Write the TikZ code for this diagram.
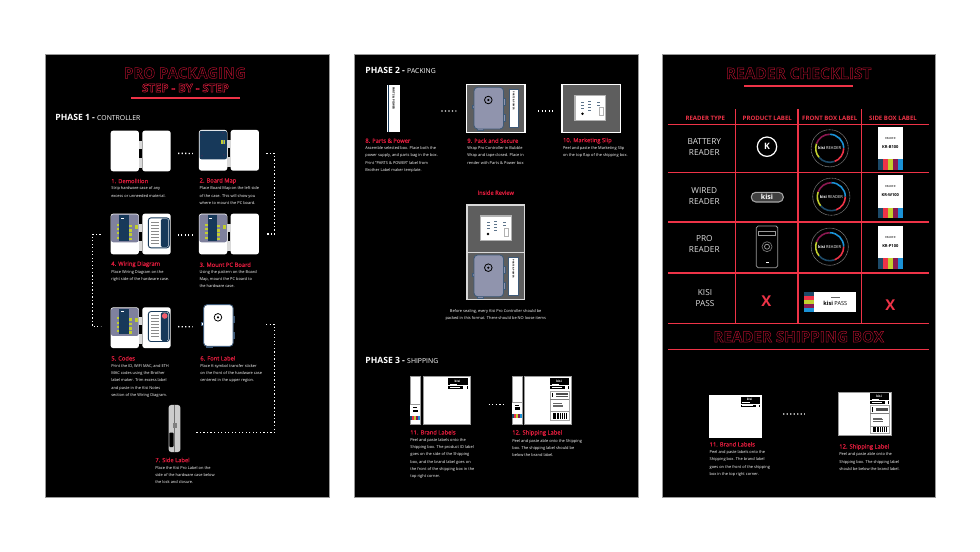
\documentclass[tikz,border=0pt]{standalone}
\usepackage{fontspec}
\setmainfont{Open Sans}
\usetikzlibrary{fit}

\definecolor{kisired}{HTML}{EE3347}
\definecolor{steprose}{HTML}{DC1C3C}
\definecolor{deeprose}{HTML}{A80F2B}
\definecolor{kisinavy}{HTML}{17395A}
\definecolor{plategrey}{HTML}{7F819D}
\definecolor{casegrey}{HTML}{9094AD}
\definecolor{caseedge}{HTML}{3E5A78}
\definecolor{traygrey}{HTML}{5E5E5E}
\definecolor{barnavy}{HTML}{1D4A68}
\definecolor{baryellow}{HTML}{C2CF2F}
\definecolor{barmaroon}{HTML}{8A1850}
\definecolor{barblue}{HTML}{1B92D6}

% outlined lettering for the big headings
\newcommand{\hollowtext}[1]{\special{pdf:code 0.28 w 1 Tr}#1\special{pdf:code 0 Tr}}
% colour bars, stacked left to right or top to bottom
\newcommand{\vbars}[4]{%
  \foreach \c [count=\i from 0] in {barnavy,kisired,baryellow,barmaroon,barblue}
    \fill[\c] ({#1+\i*(#3-#1)/5},#2) rectangle ({#1+(\i+1)*(#3-#1)/5},#4);}
\newcommand{\hbars}[4]{%
  \foreach \c [count=\i from 0] in {barnavy,kisired,baryellow,barmaroon,barblue}
    \fill[\c] (#1,{#2+\i*(#4-#2)/5}) rectangle (#3,{#2+(\i+1)*(#4-#2)/5});}

\tikzset{
  panel/.style={fill=black, draw=black!40, line width=0.4pt},
  headline/.style={text=deeprose, inner sep=0},
  phasehead/.style={anchor=west, inner sep=0, text=white, font=\fontsize{4.9}{6}\selectfont\bfseries},
  steptitle/.style={anchor=west, inner sep=0, text=steprose, font=\fontsize{3.3}{4}\selectfont\addfontfeature{FakeBold=0.8}},
  stepbody/.style={anchor=north west, inner sep=0, align=left, text=white, font=\fontsize{2.25}{4.15}\selectfont},
  centerbody/.style={stepbody, anchor=north, align=center},
  stepimg/.style={inner sep=0, fit={#1}},
  dotlink/.style={white, line width=0.75pt, dash pattern=on 0.75pt off 1.25pt},
  tablerule/.style={kisired, line width=0.65pt},
  colhead/.style={inner sep=0, text=kisired, font=\fontsize{3.45}{4}\selectfont\bfseries},
  rowhead/.style={inner sep=0, align=center, text=black!12, font=\fontsize{4.7}{6.1}\selectfont},
  cross/.style={inner sep=0, text=kisired, font=\fontsize{8.5}{9}\selectfont\bfseries},
  tinylabel/.style={inner sep=0, font=\fontsize{1.6}{2}\selectfont},
  % open hardware case, both halves
  pics/casepair/.style={code={
    \fill[white, rounded corners=1.4pt] (0,0) rectangle (28.3,40.7);
    \fill[white, rounded corners=1.4pt] (31.7,0) rectangle (60,40.7);
    \fill[black!15] (28.3,10) rectangle (31.7,37);
    \fill[black] (28.8,18) rectangle (31.2,27);
  }},
  % navy map that covers the left half
  pics/boardmap/.style={code={
    \fill[kisinavy, rounded corners=1.2pt] (0.6,0.8) rectangle (28,29.4);
    \fill[baryellow] (22,10) rectangle (26.3,14.4);
    \draw[kisinavy!60!white, line width=0.3pt] (24.1,10) -- (24.1,14.4);
    \foreach \px/\py in {2/5,25/25,3/26,24/3} \fill[barmaroon] (\px,\py) circle (0.5);
  }},
  % PC board mounted on the plate of the left half
  pics/boardmount/.style={code={
    \fill[plategrey, rounded corners=1.2pt] (0.4,0.8) rectangle (28,28.6);
    \fill[kisinavy] (8.7,1.4) rectangle (18,27);
    \foreach \py in {11,15.3,19.6,24} {
      \fill[baryellow] (18,\py) rectangle (21,{\py+2.6});
      \fill[baryellow] (6.3,{\py-1}) rectangle (8.7,{\py+1});
    }
    \fill[baryellow] (24.5,11) rectangle (27.5,15);
    \fill[white] (10,4) rectangle (13,5);
  }},
  % wiring sheet on the right half
  pics/wiringcard/.style={code={
    \fill[white] (37.7,4.2) rectangle (58.7,34.2);
    \draw[kisinavy, line width=0.5pt, rounded corners=1.5pt] (37.7,4.2) rectangle (58.7,34.2);
    \fill[kisinavy, rounded corners=0.8pt] (50.3,5) rectangle (57.6,33.5);
    \foreach \py in {8,11,14,17,20,23,26,29} \fill[black!45] (40,\py) rectangle ({46+mod(\py,3)},{\py+0.7});
  }},
  % closed case seen from the front
  pics/caseface/.style={code={
    \fill[#1, draw=caseedge, line width=0.5pt] (-2,18) rectangle (0,21);
    \fill[#1, draw=caseedge, line width=0.5pt] (29.5,11.5) rectangle (31,18);
    \fill[#1, draw=caseedge, line width=0.5pt] (29.5,27.5) rectangle (31,34);
    \fill[#1, draw=caseedge, line width=0.5pt] (3,41) rectangle (9,43);
    \fill[#1, draw=caseedge, line width=0.5pt, rounded corners=2pt] (0,0) rectangle (29.5,41.7);
    \draw[black, line width=0.45pt] (14.3,12.7) circle (3.8);
    \fill[black] (14.3,12.7) circle (1.2);
  }},
  % marketing slip on its tray
  pics/slipcard/.style={code={
    \fill[white, draw=black!30, line width=0.7pt] (0,0) rectangle (30.7,24.5);
    \foreach \px/\py in {6/6,6/9,6/12,13/5,13/8,13/11,13/14,22/6,22/9} \fill[kisinavy!70] (\px,\py) rectangle ({\px+3},{\py+1.2});
    \fill[black] (7.5,18) circle (1.4);
    \draw[black!30, line width=0.3pt] (24,12) rectangle (28,20);
  }},
  % black brand label of the shipping box
  pics/brandlabel/.style={code={
    \fill[black] (0,0) rectangle (19.2,10.7);
    \node[tinylabel, text=white, font=\fontsize{1.8}{2}\selectfont\bfseries] (#1) at (9,2.6) {kisi};
    \fill[white] (1.5,5.2) rectangle (9,5.9);
    \fill[white] (0,7) rectangle (19.2,7.5);
    \fill[white] (1.5,8.5) rectangle (12,9.2);
    \fill[white] (15,7.9) rectangle (18.4,10.2);
  }},
  % small product label of the side panel
  pics/sidesticker/.style={code={
    \fill[white] (0,0) rectangle (10,15.7);
    \fill[black!40] (0,0) rectangle (10,0.5);
    \fill[black] (3,2.5) rectangle (7,3);
    \fill[black] (2.5,5.2) rectangle (7.5,7.8);
    \vbars{0}{11.5}{10}{15.7}
  }},
  % carrier label with barcode
  pics/shiplabel/.style={code={
    \fill[white, draw=black!35, line width=0.45pt] (0,0) rectangle (19,#1);
    \fill[black] (1.5,1.5) rectangle (3,6);
    \foreach \py in {1.8,3.2,4.6} \fill[black!70] (6,\py) rectangle (17.5,{\py+0.5});
    \fill[black!50] (0,7.5) rectangle (19,7.9);
    \foreach \py in {12,13.5,15} \fill[black!60] (2.5,\py) rectangle ({8+\py/3},{\py+0.5});
    \fill[black!40] (0,19.8) rectangle (19,20.1);
    \foreach \px in {2.5,4,5,7,8.2,10,11.5,12.4,14,15.5} \fill[black] (\px,21.5) rectangle ({\px+0.8},{#1-1.5});
  }},
  % round front label of a reader box
  pics/ringlabel/.style={code={
    \draw[black!55, line width=0.35pt, dash pattern=on 0.6pt off 0.25pt] (0,0) circle (18.6);
    \draw[barblue, line width=0.9pt] (0,-14) arc[start angle=270, end angle=360, radius=14];
    \draw[kisired, line width=0.9pt] (14,0) arc[start angle=0, end angle=70, radius=14];
    \draw[barnavy, line width=0.9pt] (70:14) arc[start angle=70, end angle=140, radius=14];
    \draw[baryellow, line width=0.9pt] (140:14) arc[start angle=140, end angle=200, radius=14];
    \draw[barmaroon, line width=0.9pt] (200:14) arc[start angle=200, end angle=270, radius=14];
  }},
  ringtext/.style={inner sep=0, text=white, font=\fontsize{2.3}{3}\selectfont},
}

\begin{document}
\begin{tikzpicture}[x=0.02cm, y=-0.02cm]
  \useasboundingbox (0,0) rectangle (980,551);
  \fill[white] (0,0) rectangle (980,551);
  % panels
  \draw[panel] (45.5,54) rectangle (329,497);
  \draw[panel] (354.5,54) rectangle (638,497);
  \draw[panel] (662.5,54) rectangle (935,497);

  % ---- phase 1
  \fill[kisired] (131,96.8) rectangle (239.7,98.6);
  \node[headline, font=\fontsize{8.5}{10}\selectfont\bfseries] (Title1) at (185,73) {\hollowtext{PRO PACKAGING}};
  \node[headline, font=\fontsize{6.5}{7}\selectfont\bfseries, text=steprose] (Title2) at (185.5,88) {\hollowtext{STEP - BY - STEP}};
  \node[phasehead] (Phase1) at (55,117) {PHASE 1 - {\fontsize{3.9}{5}\selectfont\mdseries CONTROLLER}};

  % images
  \node[stepimg={(111,131) (171,171.7)}] (S1) {};
  \node[stepimg={(199.3,130.3) (259.3,171)}] (S2) {};
  \node[stepimg={(199.3,214) (259.3,255)}] (S3) {};
  \node[stepimg={(111,214) (171,255)}] (S4) {};
  \node[stepimg={(111,307.7) (171,348)}] (S5) {};
  \node[stepimg={(204,305) (233.7,346.7)}] (S6) {};
  \node[stepimg={(169,405.3) (180,451.7)}] (S7) {};

  \pic at (S1.north west) {casepair};
  \pic at (S2.north west) {casepair};
  \pic at (S2.north west) {boardmap};
  \pic at (S3.north west) {casepair};
  \pic at (S3.north west) {boardmount};
  \pic at (S4.north west) {casepair};
  \pic at (S4.north west) {boardmount};
  \pic at (S4.north west) {wiringcard};
  \pic at (S5.north west) {casepair};
  \pic at (S5.north west) {boardmount};
  \pic at (S5.north west) {wiringcard};
  \fill[kisired!80!white] (164.7,316) circle (2.8);
  \pic at (S6.north west) {caseface=white};
  % side of the case, with its label
  \fill[black!20, rounded corners=1.5pt] (S7.north west) rectangle (S7.south east);
  \draw[black!55, line width=0.3pt] (S7.north) -- (S7.south);
  \fill[black, rounded corners=0.5pt] (169.3,432.5) rectangle (173.5,447);
  \fill[black!50] (173,423) rectangle (177,428);

  % connectors
  \draw[dotlink] ([shift={(6.7,2)}]S1.east) -- ([shift={(-6,2.8)}]S2.west);
  \draw[dotlink] ([shift={(6.7,2.8)}]S2.east) -- ++(8.3,0) |- ([shift={(6.7,-0.5)}]S3.east);
  \draw[dotlink] ([shift={(-6,0.5)}]S3.west) -- ([shift={(6.7,0.5)}]S4.east);
  \draw[dotlink] ([shift={(-10,-0.2)}]S4.west) -- ++(-8.3,0) |- ([shift={(-10,-1.2)}]S5.west);
  \draw[dotlink] ([shift={(6.7,-1.2)}]S5.east) -- ([shift={(-11,0.9)}]S6.west);
  \draw[dotlink] ([shift={(32,-1.5)}]S6.east) -- ++(8.3,0) |- ([shift={(15,4.2)}]S7.east);

  % step texts
  \node[steptitle] (T1) at (111,181) {1. Demolition};
  \node[stepbody] (B1) at (111,186.6) {Strip hardware case of any\\excess or unneeded material.};
  \node[steptitle] (T2) at (199.3,181) {2. Board Map};
  \node[stepbody] (B2) at (199.3,186.6) {Place Board Map on the left side\\of the case. This will show you\\where to mount the PC board.};
  \node[steptitle] (T4) at (111,264.3) {4. Wiring Diagram};
  \node[stepbody] (B4) at (111,270) {Place Wiring Diagram on the\\right side of the hardware case.};
  \node[steptitle] (T3) at (199.3,264.7) {3. Mount PC Board};
  \node[stepbody] (B3) at (199.3,270) {Using the pattern on the Board\\Map, mount the PC board to\\the hardware case.};
  \node[steptitle] (T5) at (111,358.3) {5. Codes};
  \node[stepbody] (B5) at (111,364) {Print the ID, WIFI MAC, and ETH\\MAC codes using the Brother\\label maker. Trim excess label\\and paste in the Kisi Notes\\section of the Wiring Diagram.};
  \node[steptitle] (T6) at (200,358.3) {6. Font Label};
  \node[stepbody] (B6) at (200,364) {Place K-symbol transfer sticker\\on the front of the hardware case\\centered in the upper region.};
  \node[steptitle] (T7) at (155,460) {7. Side Label};
  \node[stepbody] (B7) at (155,466) {Place the Kisi Pro Label on the\\side of the hardware case below\\the lock and closure.};

  % ---- phase 2
  \node[phasehead] (Phase2) at (365,70.7) {PHASE 2 - {\fontsize{3.9}{5}\selectfont\mdseries PACKING}};
  \node[stepimg={(387.7,85) (399.7,131.7)}] (S8) {};
  \node[stepimg={(466.7,85) (524.7,132)}] (S9) {};
  \node[stepimg={(562.3,85) (620,132)}] (S10) {};
  \fill[white] (S8.north west) rectangle (S8.south east);
  \fill[kisinavy] (387.7,85) rectangle (388.4,131.7);
  \node[tinylabel, rotate=-90, anchor=west, text=black, font=\fontsize{1.6}{2}\selectfont\bfseries] (Tag8) at (393.7,87) {PARTS \& POWER};
  \fill[traygrey, draw=white, line width=0.7pt] (S9.north west) rectangle (S9.south east);
  \pic at (474,87.3) {caseface=casegrey};
  \fill[white, draw=caseedge, line width=0.5pt] (509,89.3) rectangle (518.3,127.7);
  \node[tinylabel, rotate=-90, anchor=west, text=black, font=\fontsize{1.3}{2}\selectfont\bfseries] (Tag9) at (513.7,91.5) {PARTS \& POWER};
  \fill[traygrey, draw=white, line width=0.7pt] (S10.north west) rectangle (S10.south east);
  \pic at (575,95.7) {slipcard};
  \draw[dotlink] ([shift={(41.3,2.7)}]S8.east) -- ([shift={(-10,2.5)}]S9.west);
  \draw[dotlink] ([shift={(13,2.5)}]S9.east) -- ([shift={(-8,2.5)}]S10.west);

  \node[steptitle] (T8) at (365,140.7) {8. Parts \& Power};
  \node[stepbody] (B8) at (365,146.2) {Assemble selected box. Place both the\\power supply, and parts bag in the box.\\Print "PARTS \& POWER" label from\\Brother Label maker template.};
  \node[steptitle] (T9) at (467,140.7) {9. Pack and Secure};
  \node[stepbody] (B9) at (467,146.2) {Wrap Pro Controller in Bubble\\Wrap and tape closed. Place in\\render with Parts \& Power box};
  \node[steptitle] (T10) at (562.7,140.7) {10. Marketing Slip};
  \node[stepbody] (B10) at (562.7,146.2) {Peel and paste the Marketing Slip\\on the top flap of the shipping box.};

  % inside review
  \node[steptitle, anchor=center] (Review) at (495.7,192.7) {Inside Review};
  \node[stepimg={(467.3,205.3) (524.3,299.3)}] (S13) {};
  \fill[traygrey, draw=white!85!black, line width=0.7pt] (S13.north west) rectangle (S13.south east);
  \draw[white!85!black, line width=0.7pt] (S13.west) -- (S13.east);
  \pic at (480.5,216) {slipcard};
  \pic at (474,255) {caseface=casegrey};
  \fill[white, draw=caseedge, line width=0.5pt] (508.5,257.3) rectangle (518.3,295);
  \node[tinylabel, rotate=-90, anchor=west, text=black, font=\fontsize{1.3}{2}\selectfont\bfseries] (Tag13) at (513.4,259.5) {PARTS \& POWER};
  \node[centerbody] (B13) at (495.7,309.2) {Before sealing, every Kisi Pro Controller should be\\packed in this format. There should be NO loose items};

  % ---- phase 3
  \node[phasehead] (Phase3) at (365,360) {PHASE 3 - {\fontsize{3.9}{5}\selectfont\mdseries SHIPPING}};
  \node[stepimg={(410,376.3) (470,424)}] (S11) {};
  \node[stepimg={(512,376.3) (571,424)}] (S12) {};
  \fill[white, draw=black!40, line width=0.35pt] (410,376.3) rectangle (420,424);
  \fill[white, draw=black!40, line width=0.35pt] (423.3,376.3) rectangle (470,424);
  \pic at (410,404.3) {sidesticker};
  \pic at (448.4,378.3) {brandlabel=Brand11};
  \fill[white, draw=black!40, line width=0.35pt] (512,376.3) rectangle (522,424);
  \fill[white, draw=black!40, line width=0.35pt] (524.3,376.3) rectangle (571,424);
  \pic at (512,402) {sidesticker};
  \pic at (550,378.3) {brandlabel=Brand12};
  \pic at (550,391) {shiplabel=29};
  \draw[dotlink] ([shift={(18.3,4.2)}]S11.east) -- ([shift={(-8,4.2)}]S12.west);

  \node[steptitle] (T11) at (410,432.3) {11. Brand Labels};
  \node[stepbody] (B11) at (410,438) {Peel and paste labels onto the\\Shipping box. The product ID label\\goes on the side of the Shipping\\box, and the brand label goes on\\the front of the shipping box in the\\top right corner.};
  \node[steptitle] (T12) at (512,433) {12. Shipping Label};
  \node[stepbody] (B12) at (512,439) {Peel and paste able onto the Shipping\\box. The shipping label should be\\below the brand label.};

  % ---- reader checklist
  \fill[kisired] (744,84.8) rectangle (853,86.6);
  \node[headline, font=\fontsize{8.8}{10}\selectfont\bfseries] (Title3) at (798.7,73.3) {\hollowtext{READER CHECKLIST}};
  \foreach \py in {124.3,172.7,222,273,323.7,349.7} \fill[kisired] (668,{\py-0.6}) rectangle (928.7,{\py+0.6});
  \foreach \px in {735.3,798,861.3} \draw[tablerule] (\px,109) -- (\px,323.7);

  \node[colhead] (Col1) at (705.3,118) {READER TYPE};
  \node[colhead] (Col2) at (767.3,118) {PRODUCT LABEL};
  \node[colhead] (Col3) at (829.7,118) {FRONT BOX LABEL};
  \node[colhead] (Col4) at (893,118) {SIDE BOX LABEL};
  \node[rowhead] (Row1) at (704.3,147) {BATTERY\\READER};
  \node[rowhead] (Row2) at (704.3,196.3) {WIRED\\READER};
  \node[rowhead] (Row3) at (704.3,244.3) {PRO\\READER};
  \node[rowhead] (Row4) at (705,298.3) {KISI\\PASS};

  % product labels
  \draw[white, line width=0.7pt] (767,146.7) circle (9.7);
  \node[inner sep=0, text=white, font=\fontsize{5}{6}\selectfont\bfseries] (KnobK) at (767,146.5) {K};
  \fill[black!75, draw=black!35, line width=0.6pt, rounded corners=2.6pt] (751.3,192.3) rectangle (783.3,202);
  \node[inner sep=0, text=white, font=\fontsize{4}{5}\selectfont\bfseries] (Pill) at (767,197) {kisi};
  \draw[black!40, line width=0.45pt, rounded corners=1pt] (756.3,226) rectangle (777.7,267.7);
  \draw[black!40, line width=0.45pt] (758.7,231) rectangle (775.3,235);
  \draw[black!55, line width=0.4pt] (767,246.7) circle (5);
  \draw[black!35, line width=0.4pt] (767,246.7) circle (2.5);
  \fill[white] (765.5,261.6) rectangle (768.5,262.6);
  \node[cross] (NoProduct) at (766.3,301) {X};

  % front labels
  \pic at (829.7,148.3) {ringlabel};
  \pic at (831.3,196.7) {ringlabel};
  \pic at (829.7,246.7) {ringlabel};
  \node[ringtext] (Ring1) at (829.7,148.3) {\textbf{kisi} READER};
  \node[ringtext] (Ring2) at (831.3,196.7) {\textbf{kisi} READER};
  \node[ringtext] (Ring3) at (829.7,246.7) {\textbf{kisi} READER};
  \hbars{804}{292.3}{814}{311.7}
  \fill[white] (814,292.3) rectangle (856,311.7);
  \node[inner sep=0, text=black, font=\fontsize{3.2}{4}\selectfont] (PassName) at (835.3,303) {\textbf{kisi} PASS};
  \fill[black!60] (831,297.2) rectangle (840,298);

  % side labels
  \foreach \py/\pname in {127/KR-B100,175.3/KR-W100,226/KR-P100} {
    \fill[white] (877.7,\py) rectangle (903,{\py+43});
    \vbars{877.7}{\py+32.3}{903}{\py+43}
    \node[tinylabel, text=black] (Kind\pname) at (890.3,{\py+11}) {READER};
    \node[inner sep=0, text=black, font=\fontsize{2.3}{3}\selectfont\bfseries] (Sku\pname) at (890.3,{\py+20}) {\pname};
  }
  \node[cross] (NoSide) at (890.3,305) {X};

  % ---- shipping box
  \node[headline, font=\fontsize{8.6}{10}\selectfont\bfseries] (Title4) at (798.7,336.7) {\hollowtext{READER SHIPPING BOX}};
  \node[stepimg={(709.3,395.7) (761.3,438)}] (S14) {};
  \node[stepimg={(839,392.3) (890.7,434.7)}] (S15) {};
  \fill[white] (S14.north west) rectangle (S14.south east);
  \pic at (740.5,396.7) {brandlabel=Brand14};
  \fill[white, draw=black!40, line width=0.5pt] (S15.north west) rectangle (S15.south east);
  \pic at (870,393.3) {brandlabel=Brand15};
  \pic at (870,405.7) {shiplabel=27.6};
  \draw[dotlink] ([shift={(21.4,-2.9)}]S14.east) -- ([shift={(-33.7,0.5)}]S15.west);

  \node[steptitle] (T14) at (709.3,444.3) {11. Brand Labels};
  \node[stepbody] (B14) at (709.3,450.2) {Peel and paste labels onto the\\Shipping box. The brand label\\goes on the front of the shipping\\box in the top right corner.};
  \node[steptitle] (T15) at (839,447) {12. Shipping Label};
  \node[stepbody] (B15) at (839,452.6) {Peel and paste able onto the\\Shipping box. The shipping label\\should be below the brand label.};
\end{tikzpicture}
\end{document}
